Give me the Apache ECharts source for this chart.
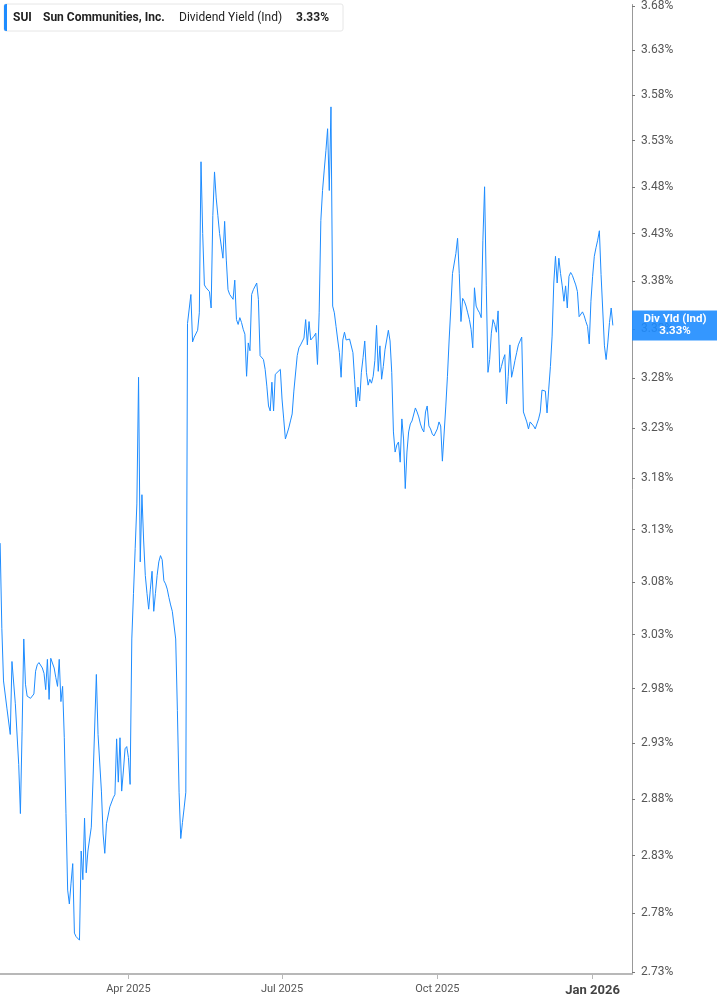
<!DOCTYPE html>
<html><head><meta charset="utf-8">
<script src="https://cdn.jsdelivr.net/npm/echarts@6/dist/echarts.min.js"></script>
<style>html,body{margin:0;padding:0;background:#fff}#c{width:717px;height:1005px}</style>
</head><body><div id="c"></div>
<script>
const dates = [
'2025-01-15','2025-01-16','2025-01-17','2025-01-19','2025-01-21','2025-01-22','2025-01-24','2025-01-26','2025-01-27','2025-01-28','2025-01-29','2025-01-30','2025-01-31',
'2025-02-02','2025-02-03','2025-02-04','2025-02-05','2025-02-06','2025-02-07','2025-02-09','2025-02-10','2025-02-11','2025-02-12','2025-02-13','2025-02-14','2025-02-16','2025-02-17','2025-02-18','2025-02-19','2025-02-20','2025-02-21','2025-02-22','2025-02-23','2025-02-24','2025-02-25','2025-02-26','2025-02-27','2025-02-28',
'2025-03-01','2025-03-03','2025-03-04','2025-03-05','2025-03-06','2025-03-07','2025-03-08','2025-03-10','2025-03-11','2025-03-13','2025-03-14','2025-03-16','2025-03-17','2025-03-18','2025-03-19','2025-03-20','2025-03-21','2025-03-23','2025-03-24','2025-03-25','2025-03-26','2025-03-27','2025-03-28','2025-03-29','2025-03-30','2025-03-31',
'2025-04-01','2025-04-02','2025-04-03','2025-04-04','2025-04-05','2025-04-06','2025-04-07','2025-04-08','2025-04-09','2025-04-10','2025-04-11','2025-04-12','2025-04-13','2025-04-14','2025-04-15','2025-04-16','2025-04-17','2025-04-18','2025-04-19','2025-04-20','2025-04-21','2025-04-22','2025-04-23','2025-04-24','2025-04-25','2025-04-26','2025-04-27','2025-04-28','2025-04-29','2025-04-30',
'2025-05-01','2025-05-02','2025-05-03','2025-05-04','2025-05-05','2025-05-06','2025-05-07','2025-05-08','2025-05-09','2025-05-10','2025-05-11','2025-05-12','2025-05-13','2025-05-14','2025-05-15','2025-05-16','2025-05-17','2025-05-18','2025-05-19','2025-05-20','2025-05-21','2025-05-22','2025-05-23','2025-05-24','2025-05-25','2025-05-27','2025-05-28','2025-05-29','2025-05-30','2025-05-31',
'2025-06-01','2025-06-02','2025-06-03','2025-06-04','2025-06-05','2025-06-06','2025-06-07','2025-06-08','2025-06-09','2025-06-10','2025-06-11','2025-06-12','2025-06-13','2025-06-14','2025-06-16','2025-06-17','2025-06-18','2025-06-20','2025-06-21','2025-06-22','2025-06-23','2025-06-24','2025-06-25','2025-06-26','2025-06-27','2025-06-28','2025-06-30',
'2025-07-01','2025-07-02','2025-07-03','2025-07-05','2025-07-06','2025-07-07','2025-07-08','2025-07-09','2025-07-10','2025-07-11','2025-07-12','2025-07-14','2025-07-15','2025-07-16','2025-07-17','2025-07-18','2025-07-20','2025-07-21','2025-07-22','2025-07-23','2025-07-24','2025-07-25','2025-07-26','2025-07-27','2025-07-28','2025-07-29','2025-07-30','2025-07-31',
'2025-08-01','2025-08-02','2025-08-03','2025-08-04','2025-08-05','2025-08-06','2025-08-07','2025-08-08','2025-08-10','2025-08-11','2025-08-12','2025-08-13','2025-08-14','2025-08-15','2025-08-16','2025-08-17','2025-08-18','2025-08-19','2025-08-20','2025-08-21','2025-08-22','2025-08-23','2025-08-24','2025-08-25','2025-08-26','2025-08-27','2025-08-28','2025-08-29','2025-08-30','2025-08-31',
'2025-09-01','2025-09-02','2025-09-03','2025-09-04','2025-09-05','2025-09-06','2025-09-07','2025-09-08','2025-09-09','2025-09-10','2025-09-11','2025-09-12','2025-09-13','2025-09-14','2025-09-15','2025-09-16','2025-09-17','2025-09-18','2025-09-19','2025-09-20','2025-09-21','2025-09-22','2025-09-23','2025-09-24','2025-09-25','2025-09-26','2025-09-27','2025-09-28','2025-09-29','2025-09-30',
'2025-10-01','2025-10-02','2025-10-03','2025-10-04','2025-10-06','2025-10-07','2025-10-08','2025-10-09','2025-10-10','2025-10-11','2025-10-12','2025-10-13','2025-10-14','2025-10-15','2025-10-16','2025-10-17','2025-10-18','2025-10-19','2025-10-20','2025-10-21','2025-10-22','2025-10-23','2025-10-24','2025-10-25','2025-10-26','2025-10-27','2025-10-28','2025-10-29','2025-10-30','2025-10-31',
'2025-11-01','2025-11-02','2025-11-03','2025-11-04','2025-11-05','2025-11-06','2025-11-07','2025-11-08','2025-11-09','2025-11-10','2025-11-11','2025-11-12','2025-11-13','2025-11-14','2025-11-15','2025-11-16','2025-11-17','2025-11-18','2025-11-19','2025-11-20','2025-11-21','2025-11-22','2025-11-23','2025-11-24','2025-11-25','2025-11-26','2025-11-27','2025-11-28','2025-11-29','2025-11-30',
'2025-12-01','2025-12-02','2025-12-03','2025-12-04','2025-12-05','2025-12-06','2025-12-07','2025-12-08','2025-12-09','2025-12-10','2025-12-11','2025-12-12','2025-12-13','2025-12-14','2025-12-15','2025-12-16','2025-12-17','2025-12-18','2025-12-19','2025-12-20','2025-12-21','2025-12-22','2025-12-23','2025-12-24','2025-12-25','2025-12-26','2025-12-27','2025-12-28','2025-12-29','2025-12-30','2025-12-31',
'2026-01-01','2026-01-02','2026-01-03','2026-01-04','2026-01-05','2026-01-06','2026-01-07','2026-01-08','2026-01-09','2026-01-10','2026-01-11','2026-01-12','2026-01-13'
];
const yields = [
3.117,3.036,2.987,2.962,2.938,3.005,2.966,2.911,2.867,2.941,3.026,2.984,2.973,
2.971,2.970,2.975,2.996,3.002,3.004,2.999,2.994,2.979,3.007,2.970,3.008,2.999,2.990,2.982,3.007,2.968,2.982,2.935,2.867,2.800,2.788,2.806,2.823,2.763,
2.760,2.757,2.834,2.809,2.863,2.815,2.834,2.855,2.896,2.993,2.938,2.887,2.849,2.832,2.858,2.858,2.873,2.881,2.884,2.934,2.895,2.935,2.887,2.905,2.925,2.927,
2.917,2.893,3.026,3.069,3.112,3.155,3.281,3.099,3.164,3.120,3.086,3.069,3.054,3.073,3.090,3.052,3.069,3.086,3.099,3.105,3.101,3.081,3.078,3.073,3.065,3.058,3.052,3.052,3.026,2.960,
2.886,2.845,2.859,2.872,2.886,3.336,3.338,3.366,3.317,3.322,3.324,3.329,3.347,3.507,3.430,3.376,3.373,3.371,3.369,3.352,3.449,3.496,3.468,3.449,3.430,3.404,3.443,3.402,3.371,3.366,
3.364,3.361,3.381,3.340,3.335,3.342,3.337,3.330,3.325,3.282,3.316,3.308,3.366,3.371,3.378,3.361,3.303,3.299,3.289,3.272,3.252,3.247,3.276,3.247,3.284,3.286,3.289,
3.259,3.239,3.219,3.230,3.237,3.244,3.267,3.267,3.303,3.311,3.314,3.321,3.340,3.314,3.338,3.319,3.323,3.326,3.294,3.347,3.444,3.476,3.498,3.519,3.543,3.476,3.567,3.354,
3.347,3.333,3.319,3.306,3.281,3.319,3.327,3.319,3.320,3.321,3.306,3.279,3.251,3.271,3.257,3.286,3.301,3.318,3.286,3.273,3.279,3.275,3.282,3.298,3.334,3.287,3.313,3.279,3.292,3.309,
3.319,3.329,3.318,3.286,3.226,3.206,3.213,3.216,3.196,3.239,3.219,3.170,3.206,3.226,3.234,3.237,3.239,3.250,3.246,3.241,3.234,3.229,3.226,3.246,3.252,3.232,3.229,3.224,3.222,3.222,
3.229,3.236,3.232,3.197,3.251,3.282,3.319,3.352,3.388,3.390,3.409,3.425,3.388,3.338,3.362,3.359,3.354,3.347,3.340,3.330,3.311,3.373,3.354,3.350,3.347,3.342,3.423,3.480,3.375,3.286,
3.299,3.326,3.340,3.335,3.327,3.349,3.286,3.292,3.299,3.304,3.254,3.282,3.314,3.281,3.289,3.298,3.306,3.314,3.314,3.322,3.246,3.241,3.236,3.229,3.236,3.236,3.232,3.229,3.234,3.239,
3.246,3.268,3.267,3.267,3.245,3.269,3.292,3.323,3.378,3.406,3.378,3.404,3.388,3.375,3.359,3.375,3.352,3.385,3.389,3.386,3.381,3.376,3.369,3.343,3.345,3.348,3.344,3.338,3.333,3.315,3.359,
3.385,3.406,3.415,3.423,3.433,3.387,3.388,3.313,3.299,3.316,3.337,3.352,3.334
];
const yTicks = [2.73,2.78,2.83,2.88,2.93,2.98,3.03,3.08,3.13,3.18,3.23,3.28,3.33,3.38,3.43,3.48,3.53,3.58,3.63,3.68];
const xTicks = ['2025-04-01','2025-07-01','2025-10-01','2026-01-01'];
const xRange = ['2025-01-14T22:00:00Z','2026-01-24T08:00:00Z'];
const yRange = [2.7283, 3.6817];
const monthNames = ['Jan','Feb','Mar','Apr','May','Jun','Jul','Aug','Sep','Oct','Nov','Dec'];
const legendTexts = ['SUI','Sun Communities, Inc.','Dividend Yield (Ind)','3.33%'];
const lastTag = ['Div Yld (Ind)','3.33%'];

const BLUE = '#1E8CFF';
const FONT = 'Roboto';
const chart = echarts.init(document.getElementById('c'));
const data = dates.map((d, i) => [Date.parse(d), Math.log(yields[i])]);
const xTickVals = xTicks.map(d => Date.parse(d));
const yTickVals = yTicks.map(v => Math.log(v));

chart.setOption({
  animation: false,
  textStyle: { fontFamily: FONT },
  grid: { left: 0, right: 85, top: 0, bottom: 31, containLabel: false },
  xAxis: {
    type: 'value',
    min: Date.parse(xRange[0]), max: Date.parse(xRange[1]),
    axisLine: { show: true, onZero: false, lineStyle: { color: '#b8b8b8', width: 2 } },
    axisTick: { show: true, length: 5, customValues: xTickVals, lineStyle: { color: '#b8b8b8' } },
    splitLine: { show: false },
    axisLabel: {
      customValues: xTickVals, margin: 10, color: '#555', fontSize: 11, fontFamily: FONT,
      formatter: v => {
        const d = new Date(v);
        const s = monthNames[d.getUTCMonth()] + ' ' + d.getUTCFullYear();
        return d.getUTCMonth() === 0 ? '{b|' + s + '}' : s;
      },
      rich: { b: { fontWeight: 'bold', fontSize: 13, color: '#444', fontFamily: FONT } }
    }
  },
  yAxis: {
    type: 'value', position: 'right',
    min: Math.log(yRange[0]), max: Math.log(yRange[1]),
    axisLine: { show: true, onZero: false, lineStyle: { color: '#999' } },
    axisTick: { show: true, length: 3, customValues: yTickVals, lineStyle: { color: '#777' } },
    splitLine: { show: false },
    axisLabel: {
      customValues: yTickVals, margin: 9, color: '#555', fontSize: 12, fontFamily: FONT,
      formatter: v => Math.exp(v).toFixed(2) + '%'
    }
  },
  series: [{
    type: 'line', data: data, symbol: 'none', showSymbol: false,
    lineStyle: { color: BLUE, width: 1 }, clip: true
  }]
});

const last = data[data.length - 1];
const p = chart.convertToPixel({ xAxisIndex: 0, yAxisIndex: 0 }, last);
const gx = chart.convertToPixel({ xAxisIndex: 0 }, Date.parse(xRange[1]));

chart.setOption({
  graphic: [
    { type: 'rect', z: 100, shape: { x: 4, y: 4, width: 339, height: 27, r: 2 },
      style: { fill: '#fff', stroke: '#e6e6e6', lineWidth: 1 } },
    { type: 'rect', z: 101, shape: { x: 4, y: 4, width: 3, height: 27, r: [2, 0, 0, 2] },
      style: { fill: BLUE } },
    { type: 'text', z: 102, x: 13, y: 17.5, style: { text: legendTexts[0], fill: '#222', font: 'bold 12px ' + FONT, verticalAlign: 'middle' } },
    { type: 'text', z: 102, x: 43, y: 17.5, style: { text: legendTexts[1], fill: '#222', font: 'bold 12px ' + FONT, verticalAlign: 'middle' } },
    { type: 'text', z: 102, x: 179, y: 17.5, style: { text: legendTexts[2], fill: '#222', font: '12px ' + FONT, verticalAlign: 'middle' } },
    { type: 'text', z: 102, x: 296, y: 17.5, style: { text: legendTexts[3], fill: '#222', font: 'bold 12px ' + FONT, verticalAlign: 'middle' } },
    { type: 'rect', z: 100, shape: { x: gx, y: p[1] - 15, width: 717 - gx, height: 30 },
      style: { fill: 'rgba(30,140,255,0.9)' } },
    { type: 'text', z: 101, x: gx + 43, y: p[1] - 6.5, style: { text: lastTag[0], fill: '#fff', font: 'bold 11.5px ' + FONT, align: 'center', verticalAlign: 'middle' } },
    { type: 'text', z: 101, x: gx + 43, y: p[1] + 5.5, style: { text: lastTag[1], fill: '#fff', font: 'bold 11.5px ' + FONT, align: 'center', verticalAlign: 'middle' } }
  ]
});
</script>
</body></html>
